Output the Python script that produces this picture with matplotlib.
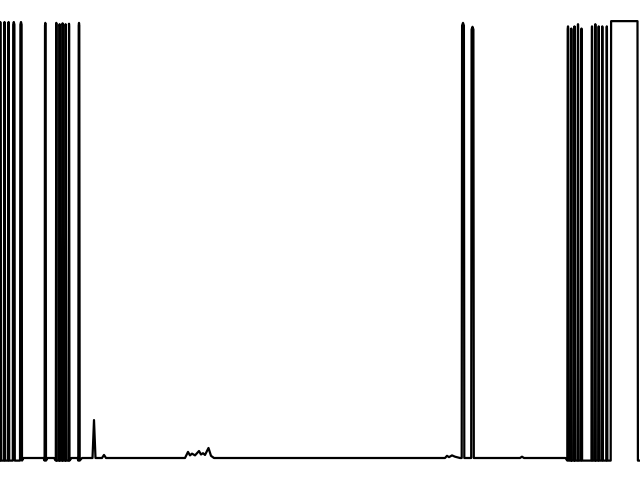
import matplotlib
matplotlib.use("Agg")
import matplotlib.pyplot as plt
import numpy as np

# trough level reached between pulses inside a burst
L = -0.006

# pulses: centre time, top width, top value, floor value
pulse_center = [0.3, 4.5, 8.6, 13.8, 21.0, 45.3, 56.3, 59.6, 62.6, 65.6, 69.0, 79.0,
                463.0, 472.5,
                568.0, 571.3, 574.5, 578.0, 581.5, 592.0, 595.3, 598.7, 602.3, 606.8, 624.3]
pulse_width = [0.8, 0.4, 0.4, 1.2, 1.2, 0.6, 0.2, 0.2, 0.2, 0.2, 0.2, 0.6,
               1.8, 1.8,
               0.6, 0.1, 0.2, 0.3, 0.4, 0.3, 0.2, 0.3, 0.4, 0.3, 26.4]
pulse_top = [1.0, 1.0, 1.0, 1.0, 1.0, 0.998, 0.998, 0.995, 0.997, 0.995, 0.996, 0.998,
             0.998, 0.989,
             0.99, 0.985, 0.99, 0.995, 0.985, 0.99, 0.995, 0.99, 0.99, 0.99, 1.002]
pulse_floor = [L] * 12 + [0.0, 0.0] + [L] * 11

# baseline samples between bursts (small bumps included)
base_t = [23.5, 43.5, 47.5, 54.0, 71.5, 77.5, 82.0, 92.5, 94.0, 95.5, 102.0, 104.0, 106.0,
          185.0, 188.0, 190.0, 192.0, 195.0, 199.0, 201.0, 203.0, 205.0, 208.5, 211.0, 214.0,
          445.0, 447.0, 449.0, 452.0, 455.0, 460.0, 476.0, 520.0, 522.0, 524.0, 565.5,
          584.5, 589.5, 639.0, 640.0]
base_v = [0.0, 0.0, 0.0, 0.0, 0.0, 0.0, 0.0, 0.0, 0.087, 0.0, 0.0, 0.007, 0.0,
          0.0, 0.014, 0.006, 0.01, 0.006, 0.016, 0.008, 0.011, 0.007, 0.023, 0.005, 0.0,
          0.0, 0.005, 0.002, 0.006, 0.003, 0.0, 0.0, 0.0, 0.003, 0.0, 0.0,
          L, L, L, L]

# build the polyline vertices, narrow pulses slightly rounded on top
edge = 0.4
pts = []
for c, w, top, lo in zip(pulse_center, pulse_width, pulse_top, pulse_floor):
    drop = 0.006 if w < 5 else 0.0
    pts.append((c - w / 2 - edge, lo))
    pts.append((c - w / 2, top - drop))
    pts.append((c, top))
    pts.append((c + w / 2, top - drop))
    pts.append((c + w / 2 + edge, lo))
for t, v in zip(base_t, base_v):
    pts.append((t, v))
pts.sort(key=lambda p: p[0])
t = np.array([p[0] for p in pts])
v = np.array([p[1] for p in pts])

fig = plt.figure(figsize=(6.4, 4.8), dpi=100)
ax = fig.add_axes([0, 22 / 480, 1, 436 / 480])
ax.plot(t, v, color='black', linewidth=1.6, solid_joinstyle='round', clip_on=False)
ax.set_xlim(0, 640)
ax.set_ylim(0, 1)
ax.axis('off')

fig.savefig('out.png', dpi=100)
